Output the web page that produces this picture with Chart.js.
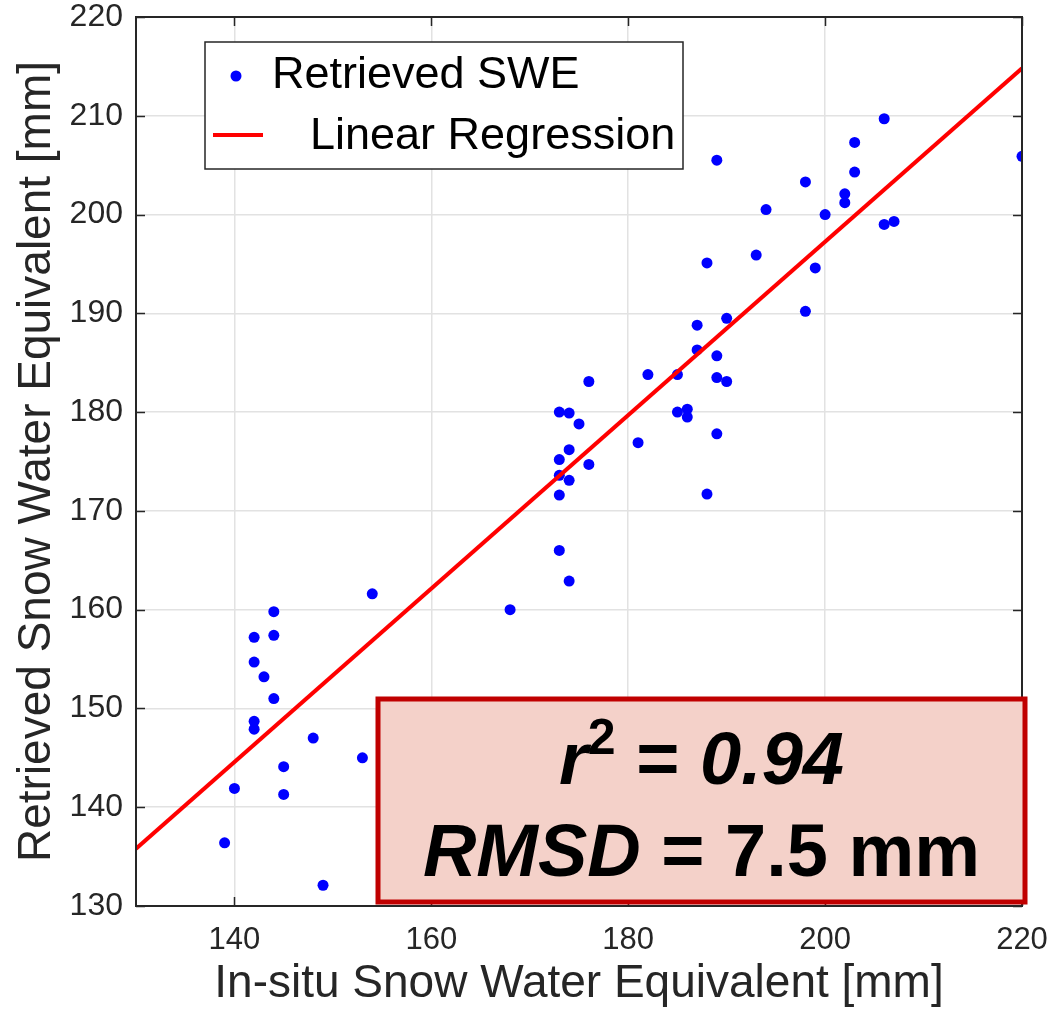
<!DOCTYPE html>
<html>
<head>
<meta charset="utf-8">
<script src="https://cdn.jsdelivr.net/npm/chart.js@4"></script>
<style>
  html, body { margin: 0; padding: 0; background: #fff; }
  #wrap { width: 1062px; height: 1014px; }
</style>
</head>
<body>
<div id="wrap"><canvas id="sweChart" width="1062" height="1014"></canvas></div>
<script>
// datos
const insituSWE = [154, 144, 142, 144, 142, 143, 144, 142, 142, 148, 153, 145, 140, 145, 139, 149,
  168, 187, 189, 176, 182, 185, 189, 190, 173, 174, 175, 185, 186, 186, 189, 181, 174, 173, 176,
  173, 174, 173, 188, 173, 174, 206, 203, 189, 220, 203, 198, 202, 202, 194, 200, 206, 207, 193,
  188, 199, 198, 190, 187];
const retrievedSWE = [161.6, 159.8, 157.2, 157.4, 154.7, 153.2, 151.0, 148.7, 147.9, 147.0, 145.0, 144.1, 141.9, 141.3, 136.4, 132.1,
  160.0, 186.3, 185.7, 183.1, 183.8, 183.8, 183.5, 183.1, 180.0, 179.9, 178.8, 180.0, 180.3, 179.5, 177.8, 176.9, 176.2, 175.2, 174.7,
  173.6, 173.1, 171.6, 171.7, 166.0, 162.9, 209.7, 207.3, 205.5, 205.9, 204.3, 203.3, 202.1, 201.2, 200.5, 200.0, 199.0, 199.3, 195.9,
  195.1, 194.6, 190.2, 189.5, 188.8];
const regX = [130, 220];
const regY = [135.8, 214.8];
const xTicks = [140, 160, 180, 200, 220];
const yTicks = [130, 140, 150, 160, 170, 180, 190, 200, 210, 220];

const axisColor = '#262626';
const fontFam = '"Liberation Sans", Arial, Helvetica, sans-serif';

// marco, marcas hacia dentro, leyenda y cuadro de estadisticos
const overlay = {
  id: 'overlay',
  afterDatasetsDraw(chart) {
    const { ctx, chartArea: a, scales: { x, y } } = chart;
    ctx.save();

    ctx.strokeStyle = axisColor;
    ctx.lineWidth = 1.5;
    ctx.beginPath();
    xTicks.forEach(v => {
      const px = Math.round(x.getPixelForValue(v)) + 0.5;
      ctx.moveTo(px, a.bottom); ctx.lineTo(px, a.bottom - 9);
      ctx.moveTo(px, a.top); ctx.lineTo(px, a.top + 9);
    });
    yTicks.forEach(v => {
      const py = Math.round(y.getPixelForValue(v)) + 0.5;
      ctx.moveTo(a.left, py); ctx.lineTo(a.left + 9, py);
      ctx.moveTo(a.right, py); ctx.lineTo(a.right - 9, py);
    });
    ctx.stroke();
    ctx.lineWidth = 2;
    ctx.strokeRect(a.left, a.top, a.right - a.left, a.bottom - a.top);

    // leyenda
    ctx.fillStyle = '#fff';
    ctx.fillRect(205, 42, 478, 127);
    ctx.strokeStyle = axisColor;
    ctx.lineWidth = 1.5;
    ctx.strokeRect(205, 42, 478, 127);
    ctx.fillStyle = '#0000ff';
    ctx.beginPath();
    ctx.arc(236, 76, 5.5, 0, Math.PI * 2);
    ctx.fill();
    ctx.strokeStyle = '#ff0000';
    ctx.lineWidth = 4;
    ctx.beginPath();
    ctx.moveTo(213, 135); ctx.lineTo(263, 135);
    ctx.stroke();
    ctx.fillStyle = '#000';
    ctx.font = '45px ' + fontFam;
    ctx.textBaseline = 'middle';
    ctx.textAlign = 'left';
    ctx.fillText(chart.data.datasets[1].label, 272, 76);
    ctx.fillText(chart.data.datasets[0].label, 310, 137);

    // cuadro r2 / RMSD
    const bx = 378, by = 699, bw = 647, bh = 203;
    ctx.fillStyle = '#f4d1c9';
    ctx.fillRect(bx, by, bw, bh);
    ctx.strokeStyle = '#c00000';
    ctx.lineWidth = 5;
    ctx.strokeRect(bx, by, bw, bh);

    const cx = bx + bw / 2;
    ctx.fillStyle = '#000';
    ctx.textBaseline = 'alphabetic';
    const fI = 'italic bold 74px ' + fontFam;
    const fB = 'bold 74px ' + fontFam;
    const fS = 'bold 50px ' + fontFam;
    // linea 1
    const parts1 = [['r', fI, 0], ['2', fS, -30], [' = ', fB, 0], ['0.94', fI, 0]];
    let w1 = 0;
    parts1.forEach(p => { ctx.font = p[1]; w1 += ctx.measureText(p[0]).width; });
    let px = cx - w1 / 2;
    parts1.forEach(p => { ctx.font = p[1]; ctx.fillText(p[0], px, 784 + p[2]); px += ctx.measureText(p[0]).width; });
    // linea 2
    const parts2 = [['RMSD', fI, 0], [' = 7.5 mm', fB, 0]];
    let w2 = 0;
    parts2.forEach(p => { ctx.font = p[1]; w2 += ctx.measureText(p[0]).width; });
    px = cx - w2 / 2;
    parts2.forEach(p => { ctx.font = p[1]; ctx.fillText(p[0], px, 876); px += ctx.measureText(p[0]).width; });

    ctx.restore();
  }
};

const ctx = document.getElementById('sweChart').getContext('2d');

const sweChart = new Chart(ctx, {
  type: 'scatter',
  data: {
    datasets: [{
      type: 'line',
      label: 'Linear Regression',
      data: regX.map((v, i) => ({ x: v, y: regY[i] })),
      borderColor: '#ff0000',
      borderWidth: 4,
      pointRadius: 0,
      fill: false,
      order: 0
    }, {
      label: 'Retrieved SWE',
      data: insituSWE.map((v, i) => ({ x: v, y: retrievedSWE[i] })),
      backgroundColor: '#0000ff',
      borderWidth: 0,
      pointRadius: 5.5,
      order: 1
    }]
  },
  options: {
    responsive: false,
    animation: false,
    layout: { padding: { top: 17, right: 40, left: 0, bottom: 0 } },
    plugins: {
      legend: { display: false },
      tooltip: { enabled: false }
    },
    scales: {
      x: {
        type: 'linear',
        min: 130,
        max: 220,
        afterBuildTicks: s => { s.ticks = xTicks.map(v => ({ value: v })); },
        afterFit: s => { s.height = 108; s.paddingLeft = 0; s.paddingRight = 0; },
        grid: { color: '#e2e2e2', lineWidth: 1.5, drawTicks: false },
        border: { display: false },
        ticks: { color: axisColor, font: { size: 31, family: fontFam }, padding: 16, maxRotation: 0 },
        title: { display: true, text: 'In-situ Snow Water Equivalent [mm]', color: axisColor,
                 font: { size: 46, family: fontFam }, padding: { top: 0, bottom: 2 } }
      },
      y: {
        type: 'linear',
        min: 130,
        max: 220,
        afterBuildTicks: s => { s.ticks = yTicks.map(v => ({ value: v })); },
        afterFit: s => { s.width = 136; s.paddingTop = 0; s.paddingBottom = 0; },
        grid: { color: '#e2e2e2', lineWidth: 1.5, drawTicks: false },
        border: { display: false },
        ticks: { color: axisColor, font: { size: 32, family: fontFam }, padding: 13 },
        title: { display: true, text: 'Retrieved Snow Water Equivalent [mm]', color: axisColor,
                 font: { size: 46, family: fontFam }, padding: { top: 10, bottom: 0 } }
      }
    }
  },
  plugins: [overlay]
});
</script>
</body>
</html>
